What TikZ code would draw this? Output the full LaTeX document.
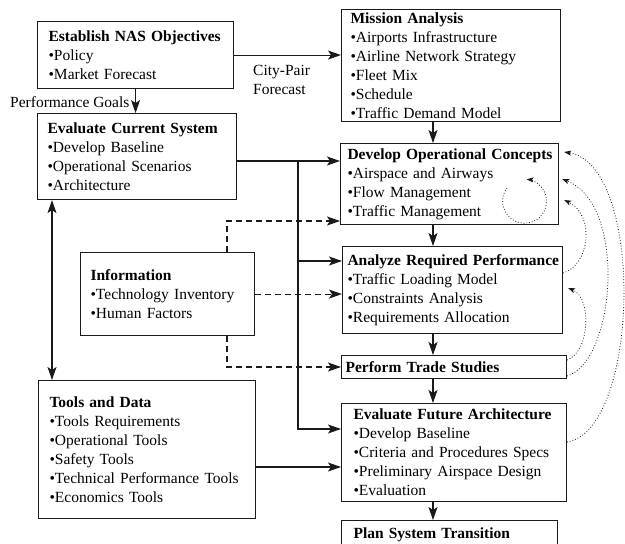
\documentclass[tikz,border=0pt]{standalone}
\usepackage{fontspec}
\setmainfont{Liberation Serif}
\usepackage{xcolor}
\usetikzlibrary{calc,arrows.meta}
\definecolor{ink}{HTML}{1A1A1A}
\newcommand{\boxfont}{\fontsize{15.5}{19}\selectfont}
\newcommand{\hd}[1]{\mbox{\textbf{#1}}}
\tikzset{
  >={Stealth[length=13pt,width=9pt,inset=3pt]},
  box/.style={draw=ink, line width=1.1pt, anchor=north west, align=left, inner ysep=0pt, font=\boxfont},
  flow/.style={draw=ink, line width=1.1pt, ->},
  flowboth/.style={draw=ink, line width=1.1pt, <->},
  loose/.style={flow, dash pattern=on 6pt off 4pt},
  feed/.style={draw=ink, line width=0.8pt, dash pattern=on 0.8pt off 2pt, -{Stealth[length=7pt,width=5pt,inset=1.5pt]}},
  lab/.style={font=\boxfont, inner sep=0pt, align=left},
}

\begin{document}
\begin{tikzpicture}[x=1pt, y=-1pt]
  \useasboundingbox (0,0) rectangle (625,544);
  % left column
  \node[box, text width=174, inner xsep=11, minimum height=67] (nas) at (37,21)
    {\hd{Establish NAS Objectives}\\•Policy\\•Market Forecast};
  \node[box, text width=179, inner xsep=10, minimum height=86] (ecs) at (37,113)
    {\hd{Evaluate Current System}\\•Develop Baseline\\•Operational Scenarios\\•Architecture};
  \node[box, text width=154, inner xsep=10, minimum height=83] (inf) at (80,252)
    {\hd{Information}\\•Technology Inventory\\•Human Factors};
  \node[box, text width=195, inner xsep=11, minimum height=138] (tools) at (38,380)
    {\hd{Tools and Data}\\•Tools Requirements\\•Operational Tools\\•Safety Tools\\•Technical Performance Tools\\•Economics Tools};
  % right column
  \node[box, text width=201, inner xsep=9, minimum height=112] (mis) at (341,9)
    {\hd{Mission Analysis}\\•Airports Infrastructure\\•Airline Network Strategy\\•Fleet Mix\\•Schedule\\•Traffic Demand Model};
  \node[box, text width=204, inner xsep=7, minimum height=81] (doc) at (340,143)
    {\hd{Develop Operational Concepts}\\•Airspace and Airways\\•Flow Management\\•Traffic Management};
  \node[box, text width=210, inner xsep=5, minimum height=87] (arp) at (342,246)
    {\hd{Analyze Required Performance}\\•Traffic Loading Model\\•Constraints Analysis\\•Requirements Allocation};
  \node[box, text width=217, inner xsep=4, minimum height=23] (pts) at (341,355)
    {\hd{Perform Trade Studies}};
  \node[box, text width=201, inner xsep=12, minimum height=98] (efa) at (341,403)
    {\hd{Evaluate Future Architecture}\\•Develop Baseline\\•Criteria and Procedures Specs\\•Preliminary Airspace Design\\•Evaluation};
  \node[box, text width=192, inner xsep=12, minimum height=28] (pst) at (341,520)
    {\hd{Plan System Transition}};
  % labels
  \node[lab, anchor=west] (goals) at (10,102) {Performance Goals};
  \node[lab, anchor=west] (citypair) at (253,80) {City-Pair\\Forecast};
  % main flow
  \coordinate (spine) at (433,0);
  \foreach \a/\b in {mis/doc, doc/arp, arp/pts, pts/efa, efa/pst}
    \draw[flow] (\a.south -| spine) -- (\b.north -| spine);
  \draw[flow] (nas.east) -- (nas.east -| mis.west);
  \draw[flow] (nas.south) -- (nas.south |- ecs.north);
  \coordinate (lk) at (52,300);
  \draw[flowboth] (ecs.south -| lk) -- (tools.north -| lk);
  \coordinate (tr) at (298,161);
  \coordinate (tra) at (298,261);
  \coordinate (trb) at (298,429);
  \draw[flow] (ecs.east |- tr) -- (tr -| doc.west);
  \draw[flow] (tr) -- (trb) -- (trb -| efa.west);
  \draw[flow] (tra) -- (tra -| arp.west);
  \coordinate (tl) at (255,467);
  \draw[flow] (tools.east |- tl) -- (tl -| efa.west);
  % information
  \coordinate (da) at (227,221);
  \coordinate (db) at (227,367);
  \draw[loose] (inf.north -| da) -- (da) -- (da -| doc.west);
  \draw[loose] (inf.east) -- (inf.east -| arp.west);
  \draw[loose] (inf.south -| db) -- (db) -- (db -| pts.west);
  % feedback
  \draw[feed] (arp.east |- 0,273) .. controls (590,265) and (595,215) .. ($(doc.east |- 0,200)+(5,0)$);
  \draw[feed] (pts.east |- 0,360) .. controls (590,352) and (592,298) .. ($(arp.east |- 0,288)+(5,0)$);
  \draw[feed] (pts.east |- 0,376) .. controls (615,362) and (628,205) .. ($(doc.east |- 0,179)+(3,0)$);
  \draw[feed] (efa.east |- 0,442) .. controls (640,430) and (645,165) .. ($(doc.east |- 0,152)+(5,0)$);
  \draw[feed] (507,188) arc[start angle=217, end angle=-85, radius=22];
\end{tikzpicture}
\end{document}
